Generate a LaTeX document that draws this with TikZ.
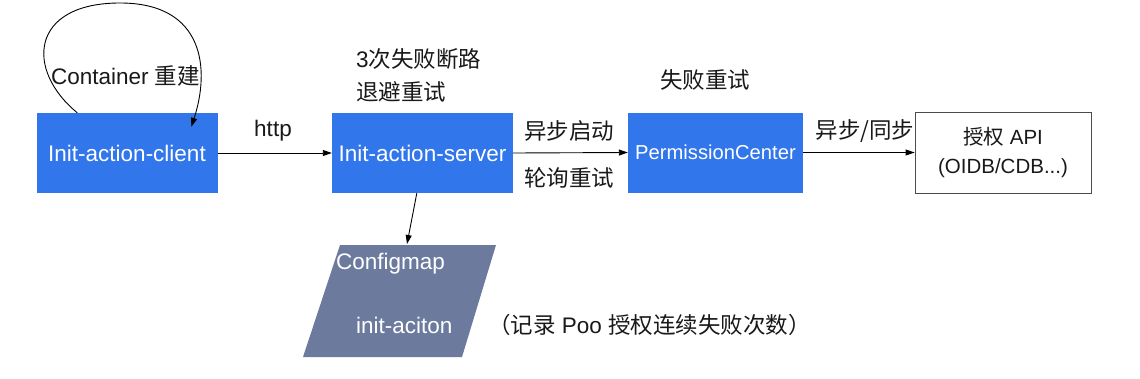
\documentclass[tikz,border=0pt]{standalone}
\usepackage{fontspec}
\setmainfont{Liberation Sans}
\newfontfamily\cjk{Noto Sans CJK SC}
\usetikzlibrary{arrows.meta,calc}
\definecolor{boxblue}{RGB}{50,118,236}
\definecolor{slate}{RGB}{108,122,158}
\definecolor{txt}{RGB}{25,25,25}
\begin{document}
\begin{tikzpicture}[x=1pt,y=-1pt,
  every node/.style={font=\fontsize{22.5}{26}\selectfont, text=txt, inner sep=0pt},
  bluebox/.style={fill=boxblue, draw=none, minimum width=181pt, minimum height=80pt, text=white},
  whitebox/.style={fill=white, draw=black!70, line width=0.8pt, minimum width=176pt, minimum height=81pt, align=center},
  conn/.style={draw=black, line width=0.9pt, -{Triangle[length=9pt,width=6pt]}},
  lbl/.style={anchor=center, align=left}
]
\useasboundingbox (0,0) rectangle (1140,378);
\fill[white] (0,0) rectangle (1140,378);

\node[bluebox] (client) at (127,153) {Init-action-client};
\node[bluebox] (server) at (422.5,153) {Init-action-server};
\node[bluebox, minimum width=175pt, font=\fontsize{20.2}{24}\selectfont] (pc) at (715.5,152.5) {PermissionCenter};
\node[whitebox, font=\fontsize{20.5}{24}\selectfont] (api) at (1003,152.5) {{\cjk 授权} API\\[5pt](OIDB/CDB...)};

% parallelogram
\coordinate (p1) at (340,245);
\coordinate (p2) at (496,245);
\coordinate (p3) at (462,357);
\coordinate (p4) at (303,357);
\fill[slate] (p1) -- (p2) -- (p3) -- (p4) -- cycle;
\node[text=white, anchor=west] (cm) at (336,264) {Configmap};
\node[text=white, anchor=west] (ia) at (356,325) {init-aciton};
\coordinate (cmtop) at (407,244);
\node[anchor=west] (note) at (488,325) {{\cjk （记录} Poo {\cjk 授权连续失败次数）}};

% connectors
\draw[conn] (client.east) -- (server.west);
\draw[conn] (server.east) -- (pc.west);
\draw[conn] (pc.east) -- (api.west);
\draw[conn] ($(server.south west)+(85,0)$) -- (cmtop);

% loop
\coordinate (ls) at ($(client.north west)+(41,0)$);
\coordinate (le) at ($(client.north west)+(155,14)$);
\draw[conn] (ls) .. controls (25,70) and (30,3) .. (120,3) .. controls (205,3) and (210,70) .. (le);

% labels
\node[lbl] (lc) at (125.5,76) {Container {\cjk 重建}};
\node[lbl] (lh) at (273,131) {http};
\node[lbl, anchor=west] (l3a) at (356,59) {3{\cjk 次失败断路}};
\node[lbl, anchor=west] (l3b) at (356,92) {\cjk 退避重试};
\node[lbl] (la1) at (569,131) {\cjk 异步启动};
\node[lbl] (la2) at (569,178) {\cjk 轮询重试};
\node[lbl] (lf) at (705,80) {\cjk 失败重试};
\node[lbl] (ls2) at (865,131) {\cjk 异步/同步};
\end{tikzpicture}
\end{document}
